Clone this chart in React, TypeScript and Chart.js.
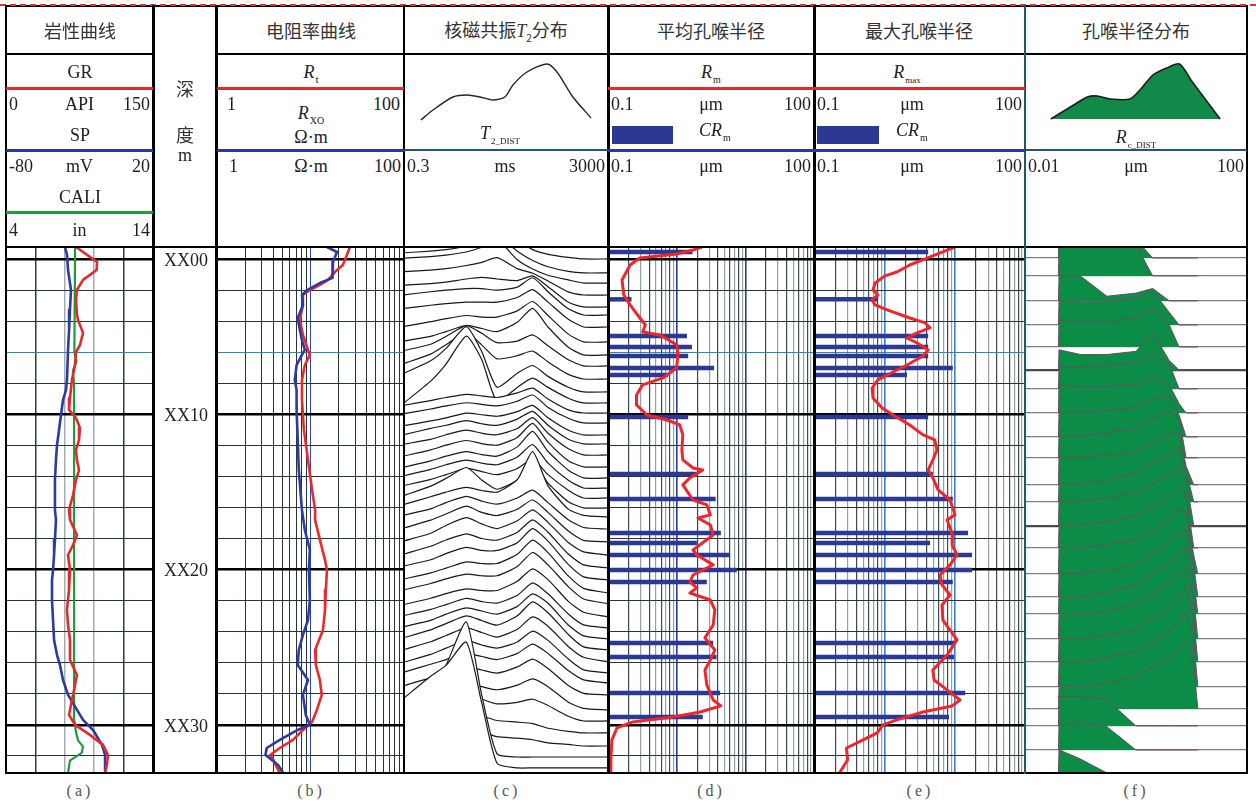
import React, { useEffect, useRef } from 'react';
import { Chart, registerables } from 'chart.js';

Chart.register(...registerables);

const SERIF = '"Liberation Serif", "Times New Roman", serif';
const CJK = '"Noto Sans CJK SC", "Noto Sans CJK JP", sans-serif';

// ---------- depth axis (m below XX00) ----------
const DEPTH_MIN = -0.77;
const DEPTH_MAX = 33.1;
const DEPTH_GRID = [0, 2, 4, 6, 8, 10, 12, 14, 16, 18, 20, 22, 24, 26, 28, 30, 32];
const DEPTH_LABELS = [0, 10, 20, 30];

// ---------- (a) lithology curves ----------
const GR_GRID = [30, 60, 90, 120];
const GR_DEPTH = [-0.77, -0.45, 0.19, 0.71, 1.35, 2.0, 2.64, 3.6, 3.93, 4.76, 5.54, 5.99, 6.83, 7.79, 8.95, 9.72, 10.24, 10.88, 11.65, 12.3, 12.94, 13.59, 14.23, 15.2, 16.16, 16.8, 17.77, 18.42, 19.06, 20.03, 21.31, 22.6, 23.57, 24.53, 25.82, 26.79, 27.75, 28.4, 29.36, 30.0, 30.65, 31.29, 31.94, 32.58, 33.1];
const GR_API = [71.4, 78.6, 92.9, 92.5, 78.6, 72.4, 71.4, 72.4, 73.5, 78.6, 75.5, 71.4, 70.4, 67.3, 65.3, 64.3, 71.4, 75.5, 74.5, 71.4, 72.4, 74.5, 71.4, 68.4, 64.3, 65.3, 72.4, 68.4, 63.3, 65.3, 64.3, 62.2, 63.3, 65.3, 65.3, 72.4, 69.4, 67.3, 64.3, 70.4, 85.7, 99, 104, 103, 101];
const SP_DEPTH = [-0.77, -0.26, 0.71, 2.0, 3.28, 4.57, 5.86, 7.79, 8.44, 9.08, 10.05, 11.01, 11.98, 12.94, 14.23, 16.16, 16.8, 18.09, 19.06, 20.03, 20.67, 21.96, 23.25, 24.53, 25.5, 26.14, 27.11, 28.07, 29.04, 29.68, 30.33, 31.29, 31.94, 33.1];
const SP_MV = [-39.9, -38.5, -37.8, -35.8, -36.5, -37.1, -37.8, -38.5, -39.2, -41.2, -42.6, -43.9, -45.3, -46.0, -46.7, -46.7, -46.0, -46.7, -47.3, -48.0, -48.7, -48.7, -48.0, -47.3, -45.3, -43.3, -41.2, -37.8, -31.7, -27.6, -20.8, -14.7, -12.6, -12.6];
const CALI_DEPTH = [-0.77, 6.0, 6.6, 7.2, 8.0, 29.6, 30.4, 31.0, 31.4, 31.8, 32.3, 33.1];
const CALI_IN = [8.7, 8.65, 8.8, 8.55, 8.63, 8.63, 8.75, 8.9, 9.24, 9.15, 8.35, 8.22];

// ---------- (b) resistivity ----------
const RES_GRID = [2, 3, 4, 5, 6, 7, 8, 9, 10, 20, 30, 40, 50, 60, 70, 80, 90];
const RT_DEPTH = [-0.77, -0.26, 0.39, 0.71, 1.35, 1.67, 2.0, 2.32, 2.96, 3.93, 4.89, 5.86, 6.18, 6.83, 7.79, 9.08, 11.01, 12.94, 14.87, 16.16, 16.8, 18.09, 19.38, 20.03, 21.31, 22.6, 23.89, 25.18, 26.14, 27.11, 28.07, 29.04, 29.81, 30.33, 30.97, 31.49, 31.94, 32.26, 32.77, 33.1];
const RT_OHMM = [26.4, 24.5, 22.2, 19.2, 15.4, 12.6, 9.85, 8.3, 8.3, 7.7, 8.3, 9.4, 9.85, 8.7, 8.1, 8.1, 8.5, 9.4, 10.4, 11.2, 11.2, 12.6, 14.3, 15.0, 14.6, 14.3, 13.6, 11.2, 11.4, 12.6, 13.2, 11.7, 10.4, 8.3, 6.5, 4.7, 3.7, 4.0, 4.4, 4.7];
const RXO_DEPTH = [-0.77, -0.45, 0.19, 0.71, 1.22, 1.55, 2.0, 2.32, 2.96, 3.8, 4.57, 5.22, 5.86, 6.18, 6.83, 7.79, 8.44, 9.72, 11.65, 13.59, 16.16, 17.45, 18.74, 20.03, 21.96, 23.25, 24.21, 25.18, 26.14, 27.11, 28.07, 29.36, 30.0, 30.33, 30.97, 31.49, 31.94, 32.58, 33.1];
const RXO_OHMM = [15.0, 19.2, 17.4, 17.0, 17.4, 12.6, 9.2, 8.1, 8.3, 7.3, 7.7, 8.1, 8.7, 8.1, 7.1, 6.8, 7.1, 7.1, 7.3, 7.5, 8.1, 8.7, 9.85, 9.6, 9.85, 9.4, 8.3, 7.5, 7.3, 9.4, 8.3, 8.9, 9.85, 7.3, 4.7, 3.4, 3.3, 4.5, 5.1];

// ---------- (c) NMR T2 spectra (amplitude in m of trace offset) ----------
const T2_BINS_MS = [0.3, 1, 2, 5, 10, 20, 50, 100, 200, 500, 1000, 3000];
const T2_DEPTH = [-0.77, 0, 0.9, 1.55, 2.32, 3.09, 3.61, 4.38, 5.34, 6.18, 6.89, 7.73, 8.56, 9.27, 9.92, 10.56, 11.33, 11.91, 12.62, 13.39, 14.1, 14.75, 15.39, 16.03, 16.61, 17.39, 18.22, 19.06, 19.9, 20.67, 21.51, 22.2, 23.05, 23.76, 24.47, 25.18, 25.95, 26.66, 27.3, 28.07, 29.04, 29.75, 30.52, 31.36, 32.07, 32.77];
const T2_AMP = [
  [0.6, 0.8, 0.9, 1.0, 1.2, 1.4, 0.9, 0.5, 0.2, 0, 0, 0],
  [0.9, 1.0, 1.1, 1.3, 1.6, 2.0, 1.2, 0.6, 0.3, 0.1, 0, 0],
  [1.3, 1.4, 1.5, 1.7, 2.0, 2.4, 1.4, 0.8, 0.4, 0.1, 0, 0],
  [1.6, 1.7, 1.8, 2.0, 2.3, 2.8, 1.5, 0.9, 0.5, 0.2, 0, 0],
  [1.5, 1.6, 1.7, 1.9, 2.1, 2.4, 1.7, 1.4, 0.9, 0.2, 0, 0],
  [1.4, 1.5, 1.6, 1.8, 1.9, 1.8, 1.7, 2.0, 1.3, 0.3, 0, 0],
  [1.3, 1.5, 1.6, 1.7, 1.7, 1.6, 1.8, 2.4, 1.5, 0.4, 0, 0],
  [1.2, 1.4, 1.5, 1.6, 1.6, 1.6, 1.9, 2.4, 1.6, 0.5, 0, 0],
  [1.0, 1.3, 1.5, 1.7, 1.6, 1.6, 2.0, 2.6, 1.7, 0.5, 0, 0],
  [0.9, 1.2, 1.5, 1.9, 1.7, 1.5, 2.1, 3.0, 1.8, 0.5, 0, 0],
  [1.0, 1.4, 1.9, 2.6, 2.1, 1.5, 1.6, 2.0, 1.3, 0.4, 0, 0],
  [1.0, 1.6, 2.2, 3.0, 2.2, 1.3, 1.5, 1.8, 1.1, 0.3, 0, 0],
  [1.2, 2.0, 2.8, 4.2, 2.6, 0.3, 1.2, 1.7, 1.0, 0.3, 0, 0],
  [0.0, 1.4, 2.5, 4.3, 2.8, 0.1, 1.0, 1.6, 1.0, 0.3, 0, 0],
  [0.5, 0.8, 1.0, 1.2, 1.1, 1.0, 1.3, 1.6, 0.9, 0.2, 0, 0],
  [0.6, 0.9, 1.1, 1.3, 1.2, 1.1, 1.4, 1.8, 1.0, 0.3, 0, 0],
  [0.6, 0.9, 1.1, 1.4, 1.3, 1.2, 1.5, 1.9, 1.1, 0.3, 0, 0],
  [0.6, 1.0, 1.2, 1.5, 1.3, 1.2, 1.6, 2.1, 1.2, 0.3, 0, 0],
  [0.7, 1.0, 1.3, 1.6, 1.4, 1.3, 1.7, 2.4, 1.4, 0.4, 0, 0],
  [0.7, 1.1, 1.4, 1.7, 1.5, 1.4, 1.9, 2.8, 1.6, 0.4, 0, 0],
  [0.7, 1.1, 1.4, 1.7, 1.5, 1.4, 2.0, 3.0, 1.7, 0.5, 0, 0],
  [0.8, 1.2, 1.5, 1.8, 1.6, 1.5, 2.0, 2.8, 1.6, 0.5, 0, 0],
  [0.8, 1.2, 1.5, 1.9, 1.7, 1.5, 1.9, 2.5, 1.5, 0.5, 0, 0],
  [0.8, 1.4, 1.9, 2.6, 1.8, 1.2, 1.8, 2.9, 1.6, 0.4, 0, 0],
  [0.8, 1.3, 1.6, 1.9, 1.7, 1.6, 2.4, 4.2, 2.0, 0.5, 0.1, 0],
  [0.9, 1.3, 1.7, 2.1, 1.8, 1.6, 2.0, 2.5, 1.7, 0.6, 0.1, 0],
  [0.9, 1.4, 1.8, 2.3, 1.9, 1.7, 2.1, 2.7, 1.9, 0.7, 0.1, 0],
  [0.9, 1.4, 1.9, 2.4, 2.0, 1.7, 2.2, 2.9, 2.1, 0.8, 0.2, 0],
  [0.9, 1.4, 1.8, 2.2, 1.9, 1.8, 2.3, 3.1, 2.3, 0.9, 0.2, 0],
  [0.9, 1.3, 1.7, 2.1, 1.9, 1.9, 2.4, 3.3, 2.5, 1.0, 0.2, 0],
  [0.9, 1.3, 1.6, 2.0, 1.9, 1.9, 2.5, 3.4, 2.6, 1.1, 0.3, 0],
  [0.9, 1.3, 1.6, 1.9, 1.8, 1.8, 2.4, 3.3, 2.5, 1.1, 0.3, 0],
  [0.8, 1.2, 1.5, 1.8, 1.7, 1.7, 2.3, 3.1, 2.4, 1.0, 0.3, 0],
  [0.8, 1.2, 1.5, 1.9, 1.7, 1.6, 2.1, 2.9, 2.2, 0.9, 0.2, 0],
  [0.8, 1.2, 1.6, 2.0, 1.8, 1.6, 2.1, 2.9, 2.3, 0.9, 0.2, 0],
  [0.8, 1.3, 1.7, 2.2, 1.9, 1.6, 2.2, 3.1, 2.4, 1.0, 0.2, 0],
  [0.8, 1.3, 1.7, 2.2, 1.9, 1.6, 2.1, 2.9, 2.3, 1.0, 0.3, 0],
  [0.7, 1.2, 1.6, 2.1, 1.8, 1.6, 2.0, 2.7, 2.1, 0.9, 0.2, 0],
  [0.7, 1.2, 1.5, 1.9, 1.7, 1.5, 1.9, 2.5, 1.9, 0.8, 0.2, 0],
  [0.6, 1.1, 1.4, 1.8, 1.6, 1.4, 1.8, 2.3, 1.7, 0.6, 0.1, 0],
  [0.6, 1.1, 1.4, 1.7, 1.5, 1.3, 1.6, 2.0, 1.5, 0.5, 0.1, 0],
  [0.5, 1.0, 1.3, 1.6, 1.4, 1.1, 1.2, 1.4, 1.0, 0.3, 0, 0],
  [0.5, 0.9, 1.1, 1.3, 1.1, 0.8, 0.7, 0.6, 0.3, 0.1, 0, 0],
  [0.4, 0.7, 0.9, 1.1, 0.9, 0.6, 0.5, 0.4, 0.2, 0.1, 0, 0],
  [1.2, 4.2, 5.9, 8.7, 4.0, 0.2, 0, 0, 0, 0, 0, 0],
  [4.5, 5.9, 6.6, 8.1, 4.2, 0.3, 0, 0, 0, 0, 0, 0],
];

// ---------- (d) mean / (e) max pore-throat radius ----------
const PORE_GRID = [0.2, 0.3, 0.4, 0.5, 0.6, 0.7, 0.8, 0.9, 1, 2, 3, 4, 5, 6, 7, 8, 9, 10, 20, 30, 40, 50, 60, 70, 80, 90];
const RM_DEPTH = [-0.77, -0.58, -0.32, -0.06, 0.39, 1.35, 2.32, 2.96, 3.61, 4.25, 4.7, 4.89, 5.54, 6.18, 7.02, 7.66, 8.11, 8.76, 9.4, 10.05, 10.37, 10.69, 11.33, 12.3, 12.94, 13.46, 13.59, 14.1, 14.55, 15.52, 15.84, 16.48, 16.68, 17.13, 17.77, 18.74, 19.06, 19.7, 20.35, 20.8, 21.18, 21.51, 21.96, 22.6, 23.57, 24.4, 25.18, 25.82, 26.47, 27.43, 28.4, 28.78, 29.17, 29.49, 29.81, 30.2, 30.97, 32.26, 33.1];
const RM_UM = [2.34, 1.73, 1.01, 0.29, 0.21, 0.16, 0.17, 0.21, 0.27, 0.35, 0.32, 0.57, 1.01, 1.04, 1.0, 0.63, 0.32, 0.26, 0.26, 0.37, 0.72, 1.11, 1.23, 1.19, 1.23, 1.73, 2.4, 1.56, 1.23, 1.73, 2.75, 3.1, 2.04, 3.1, 3.4, 1.73, 1.97, 3.4, 1.73, 1.56, 1.97, 1.56, 3.1, 3.6, 3.4, 2.58, 3.6, 3.1, 2.58, 2.75, 3.4, 4.4, 2.2, 0.89, 0.23, 0.135, 0.114, 0.11, 0.11];
const RMAX_DEPTH = [-0.77, -0.45, -0.06, 0.39, 0.84, 1.09, 1.55, 2.0, 2.32, 2.64, 2.96, 3.28, 3.8, 4.12, 4.44, 4.76, 5.09, 5.41, 5.86, 6.25, 6.83, 7.28, 7.79, 8.31, 8.95, 9.59, 10.05, 10.69, 11.33, 11.65, 12.3, 12.94, 13.59, 14.1, 14.87, 15.52, 16.48, 16.8, 17.77, 18.42, 19.06, 19.7, 20.35, 20.99, 21.64, 22.28, 23.25, 24.53, 25.5, 26.47, 27.11, 27.75, 28.4, 28.78, 29.17, 29.68, 30.0, 30.52, 30.97, 31.49, 32.26, 33.1];
const RMAX_UM = [10.1, 6.8, 4.05, 2.3, 1.51, 1.02, 0.74, 0.69, 0.81, 0.67, 0.74, 1.09, 2.3, 3.8, 4.47, 2.92, 2.1, 2.92, 4.2, 3.55, 2.1, 1.33, 0.81, 0.67, 0.69, 0.93, 1.33, 2.3, 3.55, 5.2, 5.6, 4.9, 4.2, 4.9, 5.8, 8.6, 10.1, 7.8, 9.4, 9.2, 10.8, 8.6, 6.2, 6.6, 8.6, 6.6, 6.8, 10.8, 7.8, 4.9, 5.1, 7.8, 11.9, 9.2, 3.55, 1.51, 0.96, 0.79, 0.5, 0.29, 0.3, 0.23];
const CR_DEPTH = [-0.45, 2.6, 4.96, 5.67, 6.25, 7.02, 7.47, 10.17, 13.84, 15.45, 17.64, 18.29, 19.06, 20.03, 20.8, 24.73, 25.63, 27.95, 29.49];
const CR_MEAN_UM = [1.7, 0.22, 1.41, 1.67, 1.47, 3.5, 0.75, 1.47, 1.97, 3.7, 4.4, 1.97, 6.0, 7.5, 2.75, 3.4, 3.8, 4.3, 2.4];
const CR_MAX_UM = [4.2, 0.81, 4.2, 4.2, 4.2, 9.4, 2.1, 4.2, 4.9, 9.4, 15.5, 4.47, 17.7, 17.7, 9.4, 9.8, 9.8, 14.1, 8.3];

// ---------- (f) pore-throat radius distribution ----------
const RC_BINS_UM = [0.04, 0.041, 0.1, 0.3, 1, 2, 4, 6, 8, 11, 13];
const RC_DEPTH = [-0.06, 1.09, 2.7, 4.25, 5.67, 7.15, 8.37, 9.92, 11.46, 12.81, 14.55, 15.65, 17.19, 18.61, 20.28, 21.76, 22.86, 24.47, 25.95, 27.56, 28.98, 30.07, 31.62, 33.1];
const RC_AMP = [
  [0, 1.2, 1.2, 1.2, 1.2, 0, 0, 0, 0, 0, 0],
  [0, 2.0, 2.0, 2.0, 2.0, 0, 0, 0, 0, 0, 0],
  [0, 1.6, 1.6, 0.3, 0.5, 0.8, 0, 0, 0, 0, 0],
  [0, 1.6, 1.5, 1.5, 1.7, 2.2, 0.8, 0, 0, 0, 0],
  [0, 1.7, 1.6, 1.6, 1.9, 2.6, 1.4, 0, 0, 0, 0],
  [0, 1.3, 1.0, 1.0, 1.2, 2.4, 0.6, 0, 0, 0, 0],
  [0, 1.4, 1.4, 1.5, 1.7, 2.2, 1.6, 0, 0, 0, 0],
  [0, 1.8, 1.7, 1.7, 1.8, 2.3, 1.8, 0.6, 0, 0, 0],
  [0, 1.6, 1.6, 1.7, 1.9, 2.4, 2.6, 1.4, 0, 0, 0],
  [0, 1.4, 1.4, 1.6, 1.9, 2.5, 3.0, 2.6, 0, 0, 0],
  [0, 1.8, 1.8, 1.9, 2.1, 2.7, 3.3, 3.4, 1.2, 0, 0],
  [0, 1.2, 1.2, 1.4, 1.9, 2.5, 3.1, 3.5, 2.0, 0, 0],
  [0, 1.6, 1.6, 1.8, 2.1, 2.7, 3.3, 3.8, 3.0, 0, 0],
  [0, 1.5, 1.5, 1.7, 2.1, 2.7, 3.3, 3.9, 3.4, 0, 0],
  [0, 1.7, 1.7, 1.9, 2.2, 2.8, 3.5, 4.1, 4.0, 1.2, 0],
  [0, 1.5, 1.5, 1.7, 2.1, 2.8, 3.5, 4.1, 4.3, 2.0, 0],
  [0, 1.1, 1.1, 1.4, 1.9, 2.6, 3.3, 3.9, 4.2, 2.2, 0],
  [0, 1.6, 1.6, 1.8, 2.2, 2.9, 3.6, 4.2, 4.6, 2.6, 0],
  [0, 1.5, 1.5, 1.7, 2.1, 2.8, 3.5, 4.2, 4.7, 2.8, 0],
  [0, 1.6, 1.6, 1.9, 2.3, 2.9, 3.6, 4.3, 4.8, 3.0, 0],
  [0, 1.4, 1.4, 1.7, 2.1, 2.7, 3.3, 3.9, 4.4, 2.8, 0],
  [0, 1.9, 1.9, 1.7, 0, 0, 0, 0, 0, 0, 0],
  [0, 1.6, 1.8, 1.5, 0, 0, 0, 0, 0, 0, 0],
  [0, 1.5, 0.9, 0, 0, 0, 0, 0, 0, 0, 0],
];

// ---------- header legend glyphs (percent across track, height in px units) ----------
const HEAD_T2_X = [8.3, 14.2, 24.0, 30.9, 37.3, 43.6, 49.5, 53.4, 60.3, 70.1, 75.0, 82.8, 91.7];
const HEAD_T2_Y = [30, 40, 53, 55, 53, 50, 53, 65, 78, 86, 78, 53, 32];
const HEAD_RC_X = [11.6, 21.9, 28.1, 32.6, 38.4, 47.3, 51.8, 57.6, 63.8, 69.6, 75.4, 87.9];
const HEAD_RC_Y = [31, 45, 53, 54, 51, 51, 60, 75, 82, 86, 68, 31];

// ---------- layout ----------
const BODY_TOP = 247;
const BODY_H = 526;
const HEAD_TOP = 55;
const HEAD_H = 95;

const RED = '#e6282d';
const BLUE = '#28389c';
const GREEN = '#219a3a';
const TEAL = '#1f5a66';
const BAR_BLUE = '#2b3993';

const depthGridColor = (v: number) => (v % 10 === 0 ? '#000' : v === 6 ? '#2a8c9c' : '#263636');
const depthGridWidth = (v: number) => (v % 10 === 0 ? 2.5 : 1);

function makeScale(opts: any) {
  const { type = 'linear', min, max, reverse = false, grid = null, color, width, display = true, position } = opts;
  return {
    type, min, max, reverse, display, position,
    afterBuildTicks: (s: any) => {
      s.ticks = (grid ?? [min, max]).map((value: number) => ({ value }));
    },
    afterFit: (s: any) => {
      if (s.isHorizontal()) s.height = 0; else s.width = 0;
      s.paddingTop = 0; s.paddingBottom = 0; s.paddingLeft = 0; s.paddingRight = 0;
    },
    ticks: { display: false, autoSkip: false },
    border: { display: false },
    grid: {
      display: !!grid,
      drawTicks: false,
      color: (c: any) => (c.tick && color ? color(c.tick.value) : 'rgba(0,0,0,0)'),
      lineWidth: (c: any) => (c.tick && width ? width(c.tick.value) : 1),
    },
  };
}

const depthScale = (grid: number[] | null, color?: any, width?: any) =>
  makeScale({ min: DEPTH_MIN, max: DEPTH_MAX, reverse: true, grid, color, width, position: 'left' });

function baseOptions(scales: any) {
  return {
    responsive: false,
    maintainAspectRatio: false,
    animation: false,
    events: [],
    layout: { padding: 0 },
    plugins: { legend: { display: false }, tooltip: { enabled: false } },
    scales,
  };
}

function curve(depths: number[], values: number[], color: string, width: number, xAxisID = 'x') {
  return {
    data: depths.map((d, i) => ({ x: values[i], y: d })),
    xAxisID, yAxisID: 'y',
    borderColor: color, borderWidth: width, pointRadius: 0, fill: false, tension: 0,
    borderJoinStyle: 'round',
  };
}

function bars(depths: number[], values: number[], from: number) {
  return depths.map((d, i) => ({
    data: [{ x: from, y: d }, { x: values[i], y: d }],
    borderColor: BAR_BLUE, borderWidth: 4.5, pointRadius: 0, fill: false, borderCapStyle: 'butt',
  }));
}

function ChartCanvas({ left, top, width, height, config }: any) {
  const ref = useRef<HTMLCanvasElement | null>(null);
  useEffect(() => {
    if (!ref.current) return;
    const chart = new Chart(ref.current, config());
    return () => chart.destroy();
  }, []);
  return (
    <canvas
      ref={ref}
      width={width}
      height={height}
      style={{ position: 'absolute', left, top, width, height, display: 'block' }}
    />
  );
}

// ---------- track configurations ----------
const lithologyConfig = () => ({
  type: 'line',
  data: {
    datasets: [
      curve(GR_DEPTH, GR_API, RED, 2.6, 'x'),
      curve(SP_DEPTH, SP_MV, '#2a3aa6', 2.6, 'xSP'),
      curve(CALI_DEPTH, CALI_IN, GREEN, 2.2, 'xCALI'),
    ],
  },
  options: baseOptions({
    x: makeScale({
      min: 0, max: 150, grid: GR_GRID,
      color: (v: number) => (v === 60 || v === 90 ? '#a3adad' : '#2e3e3e'),
      width: () => 1.5,
    }),
    xSP: makeScale({ min: -80, max: 20, display: false }),
    xCALI: makeScale({ min: 4, max: 14, display: false }),
    y: depthScale(DEPTH_GRID, depthGridColor, depthGridWidth),
  }),
});

const resistivityConfig = () => ({
  type: 'line',
  data: {
    datasets: [
      curve(RXO_DEPTH, RXO_OHMM, '#2a3aa6', 2.6),
      curve(RT_DEPTH, RT_OHMM, '#ea2a2a', 2.6),
    ],
  },
  options: baseOptions({
    x: makeScale({
      type: 'logarithmic', min: 1, max: 100, grid: RES_GRID,
      color: (v: number) => (v === 10 ? '#2f44c4' : '#263636'),
      width: () => 1,
    }),
    y: depthScale(DEPTH_GRID, depthGridColor, depthGridWidth),
  }),
});

const t2Config = () => ({
  type: 'line',
  data: {
    datasets: T2_DEPTH.map((d, i) => ({
      data: T2_BINS_MS.map((t, j) => ({ x: t, y: d - T2_AMP[i][j] })),
      fill: { value: d },
      backgroundColor: '#ffffff',
      borderColor: '#151b1b',
      borderWidth: 1.2,
      pointRadius: 0,
      tension: 0.2,
      order: -i,
    })),
  },
  options: baseOptions({
    x: makeScale({ type: 'logarithmic', min: 0.3, max: 3000 }),
    y: depthScale(null),
  }),
});

const poreGridColor = (blue: string) => (v: number) => {
  if (v === 1 || v === 10) return blue;
  const m = Math.round(v / Math.pow(10, Math.floor(Math.log10(v) + 1e-9)));
  return m % 2 === 0 ? '#3c4c4c' : '#93a3a3';
};

const radiusConfig = (depths: number[], values: number[], barVals: number[], blue: string) => () => ({
  type: 'line',
  data: {
    datasets: [curve(depths, values, '#f0262c', 3), ...bars(CR_DEPTH, barVals, 0.1)],
  },
  options: baseOptions({
    x: makeScale({
      type: 'logarithmic', min: 0.1, max: 100, grid: PORE_GRID,
      color: poreGridColor(blue),
      width: (v: number) => (v === 1 || v === 10 ? 1.6 : 1.2),
    }),
    y: depthScale(DEPTH_GRID, depthGridColor, depthGridWidth),
  }),
});

const distConfig = () => ({
  type: 'line',
  data: {
    datasets: RC_DEPTH.map((d, i) => ({
      data: RC_BINS_UM.map((r, j) => ({ x: r, y: d - RC_AMP[i][j] })),
      fill: { value: d },
      backgroundColor: '#0b8c47',
      borderColor: '#6e4b5e',
      borderWidth: 1,
      pointRadius: 0,
      tension: 0,
      order: -i,
    })),
  },
  options: baseOptions({
    x: makeScale({ type: 'logarithmic', min: 0.01, max: 100 }),
    y: depthScale(RC_DEPTH, (v: number) => (v === 7.15 || v === 17.19 ? '#4e4848' : '#857b7b'),
      (v: number) => (v === 7.15 || v === 17.19 ? 2.2 : 1.2)),
  }),
});

const depthConfig = () => ({
  type: 'line',
  data: { datasets: [] },
  options: baseOptions({
    x: { display: false },
    y: {
      type: 'linear', min: DEPTH_MIN, max: DEPTH_MAX, reverse: true, position: 'left',
      afterBuildTicks: (s: any) => { s.ticks = DEPTH_LABELS.map((value) => ({ value })); },
      afterFit: (s: any) => {
        s.width = 55;
        s.paddingTop = 0; s.paddingBottom = 0;
      },
      ticks: {
        display: true, autoSkip: false, padding: 0, crossAlign: 'near', color: '#222',
        font: { family: 'Liberation Serif', size: 18 },
        callback: (v: any) => 'XX' + String(v).padStart(2, '0'),
      },
      grid: { display: false, drawTicks: false },
      border: { display: false },
    },
  }),
});

const glyphConfig = (xs: number[], ys: number[], filled: boolean) => () => ({
  type: 'line',
  data: {
    datasets: [{
      data: xs.map((x, i) => ({ x, y: ys[i] })),
      borderColor: filled ? '#1d1d1d' : '#1d2b2b',
      borderWidth: filled ? 1.6 : 1.4,
      pointRadius: 0,
      tension: 0.25,
      fill: filled ? { value: ys[0] } : false,
      backgroundColor: '#118a49',
    }],
  },
  options: baseOptions({
    x: makeScale({ min: 0, max: 100 }),
    y: makeScale({ min: 0, max: HEAD_H }),
  }),
});

// ---------- header helpers ----------
const Txt = ({ x, y, children, align = 'center', size = 18, font = SERIF, color = '#222', style = {} }: any) => {
  const tx = align === 'center' ? '-50%' : align === 'right' ? '-100%' : '0';
  return (
    <div style={{
      position: 'absolute', left: x, top: y, transform: `translate(${tx},-50%)`,
      fontSize: size, fontFamily: font, whiteSpace: 'nowrap', lineHeight: 1, color, ...style,
    }}>{children}</div>
  );
};

const Sym = ({ main, sub, subSize = 11 }: any) => (
  <span>
    <i>{main}</i>
    <span style={{ fontSize: subSize, position: 'relative', top: 5, fontStyle: 'normal', marginLeft: 1 }}>{sub}</span>
  </span>
);

const Rect = ({ l, t, w, h, bg, style = {} }: any) => (
  <div style={{ position: 'absolute', left: l, top: t, width: w, height: h, background: bg, ...style }} />
);

const HL = ({ x1, x2, y, t = 2.5, c = '#000' }: any) => <Rect l={x1} t={y - t / 2} w={x2 - x1} h={t} bg={c} />;
const VL = ({ x, y1, y2, t = 2.5, c = '#000' }: any) => <Rect l={x - t / 2} t={y1} w={t} h={y2 - y1} bg={c} />;

const Title = ({ x, children }: any) => (
  <Txt x={x} y={30} size={18} font={CJK} color="#333">{children}</Txt>
);

const Scale3 = ({ x1, x2, y, left, mid, right, midX }: any) => (
  <>
    <Txt x={x1 + 3} y={y} align="left">{left}</Txt>
    <Txt x={midX ?? (x1 + x2) / 2} y={y}>{mid}</Txt>
    <Txt x={x2 - 3} y={y} align="right">{right}</Txt>
  </>
);

export default function App() {
  useEffect(() => {
    document.body.style.margin = '0';
  }, []);

  return (
    <div style={{ position: 'absolute', left: 0, top: 0, width: 1256, height: 804, background: '#fff', overflow: 'hidden' }}>
      {/* log tracks */}
      <ChartCanvas left={6} top={BODY_TOP} width={147} height={BODY_H} config={lithologyConfig} />
      <ChartCanvas left={153} top={BODY_TOP + 2} width={64} height={BODY_H} config={depthConfig} />
      <ChartCanvas left={217} top={BODY_TOP} width={187} height={BODY_H} config={resistivityConfig} />
      <ChartCanvas left={404} top={BODY_TOP} width={204} height={BODY_H} config={t2Config} />
      <ChartCanvas left={608} top={BODY_TOP} width={206} height={BODY_H} config={radiusConfig(RM_DEPTH, RM_UM, CR_MEAN_UM, '#2a3aa8')} />
      <ChartCanvas left={814} top={BODY_TOP} width={211} height={BODY_H} config={radiusConfig(RMAX_DEPTH, RMAX_UM, CR_MAX_UM, '#3a80d0')} />
      <ChartCanvas left={1025} top={BODY_TOP} width={222} height={BODY_H} config={distConfig} />

      {/* header glyphs */}
      <ChartCanvas left={404} top={HEAD_TOP} width={204} height={HEAD_H} config={glyphConfig(HEAD_T2_X, HEAD_T2_Y, false)} />
      <ChartCanvas left={1025} top={HEAD_TOP} width={222} height={HEAD_H} config={glyphConfig(HEAD_RC_X, HEAD_RC_Y, true)} />

      {/* frame */}
      <HL x1={5} x2={1248} y={6} t={2.5} />
      <div style={{ position: 'absolute', left: 0, top: 4, width: 1256, height: 0, borderTop: '2px dashed #e03232' }} />
      <HL x1={5} x2={154} y={54} />
      <HL x1={215} x2={1248} y={54} />
      <HL x1={5} x2={1248} y={247} />
      <HL x1={5} x2={1248} y={773} />
      <VL x={6} y1={5} y2={774} />
      <VL x={153.5} y1={5} y2={774} t={3} />
      <VL x={216.5} y1={5} y2={774} />
      <VL x={404} y1={5} y2={774} />
      <VL x={608} y1={5} y2={774} t={3} />
      <VL x={814} y1={5} y2={774} t={3} />
      <VL x={1025} y1={5} y2={774} t={2} c={TEAL} />
      <VL x={1247} y1={5} y2={774} />

      {/* header colour bars */}
      <HL x1={6} x2={153} y={88} t={3} c={RED} />
      <HL x1={6} x2={153} y={150} t={3} c={BLUE} />
      <HL x1={6} x2={153} y={212} t={3} c={GREEN} />
      <HL x1={217} x2={404} y={88} t={3} c={RED} />
      <HL x1={217} x2={404} y={150} t={3} c={BLUE} />
      <HL x1={404} x2={608} y={150} t={1.5} c={TEAL} />
      <HL x1={608} x2={814} y={88} t={3} c={RED} />
      <HL x1={608} x2={814} y={150} t={3} c={BLUE} />
      <HL x1={814} x2={1025} y={88} t={3} c={RED} />
      <HL x1={814} x2={1025} y={150} t={3} c={BLUE} />
      <HL x1={1025} x2={1247} y={150} t={1.5} c={TEAL} />
      <Rect l={612} t={126} w={61} h={18} bg={BAR_BLUE} />
      <Rect l={817} t={126} w={62} h={18} bg={BAR_BLUE} />

      {/* titles */}
      <Title x={80}>岩性曲线</Title>
      <Title x={311}>电阻率曲线</Title>
      <Title x={506}>核磁共振<i style={{ fontFamily: SERIF }}>T</i><span style={{ fontSize: 10, position: 'relative', top: 5 }}>2</span>分布</Title>
      <Title x={711}>平均孔喉半径</Title>
      <Title x={919}>最大孔喉半径</Title>
      <Title x={1136}>孔喉半径分布</Title>

      {/* (a) */}
      <Txt x={80} y={72}>GR</Txt>
      <Scale3 x1={6} x2={153} y={104} left="0" mid="API" right="150" />
      <Txt x={80} y={135}>SP</Txt>
      <Scale3 x1={6} x2={153} y={166} left="-80" mid="mV" right="20" />
      <Txt x={80} y={197}>CALI</Txt>
      <Scale3 x1={6} x2={153} y={230} left="4" mid="in" right="14" />

      {/* depth */}
      <Txt x={185} y={88} font={CJK} color="#333">深</Txt>
      <Txt x={185} y={134} font={CJK} color="#333">度</Txt>
      <Txt x={185} y={155}>m</Txt>

      {/* (b) */}
      <Txt x={311} y={72}><Sym main="R" sub="t" /></Txt>
      <Txt x={227} y={104} align="left">1</Txt>
      <Txt x={400} y={104} align="right">100</Txt>
      <Txt x={311} y={113}><Sym main="R" sub="XO" subSize={10} /></Txt>
      <Txt x={311} y={137}>Ω·m</Txt>
      <Scale3 x1={226} x2={404} y={166} left="1" mid="Ω·m" right="100" midX={311} />

      {/* (c) */}
      <Txt x={500} y={133}><Sym main="T" sub="2_DIST" subSize={9} /></Txt>
      <Scale3 x1={404} x2={608} y={166} left="0.3" mid="ms" right="3000" midX={505} />

      {/* (d) */}
      <Txt x={711} y={72}><Sym main="R" sub="m" subSize={10} /></Txt>
      <Scale3 x1={608} x2={814} y={104} left="0.1" mid="μm" right="100" midX={711} />
      <Txt x={715} y={130}><Sym main="CR" sub="m" subSize={10} /></Txt>
      <Scale3 x1={608} x2={814} y={166} left="0.1" mid="μm" right="100" midX={711} />

      {/* (e) */}
      <Txt x={907} y={72}><Sym main="R" sub="max" subSize={9} /></Txt>
      <Scale3 x1={814} x2={1025} y={104} left="0.1" mid="μm" right="100" midX={912} />
      <Txt x={912} y={130}><Sym main="CR" sub="m" subSize={10} /></Txt>
      <Scale3 x1={814} x2={1025} y={166} left="0.1" mid="μm" right="100" midX={912} />

      {/* (f) */}
      <Txt x={1136} y={137}><Sym main="R" sub="c_DIST" subSize={9} /></Txt>
      <Scale3 x1={1025} x2={1247} y={166} left="0.01" mid="μm" right="100" midX={1136} />

      {/* panel letters */}
      {[['(a)', 80], ['(b)', 311], ['(c)', 507], ['(d)', 711], ['(e)', 920], ['(f)', 1136]].map(([s, x]) => (
        <Txt key={s as string} x={x} y={791} size={16} color="#555" style={{ letterSpacing: 3 }}>{s}</Txt>
      ))}
    </div>
  );
}
